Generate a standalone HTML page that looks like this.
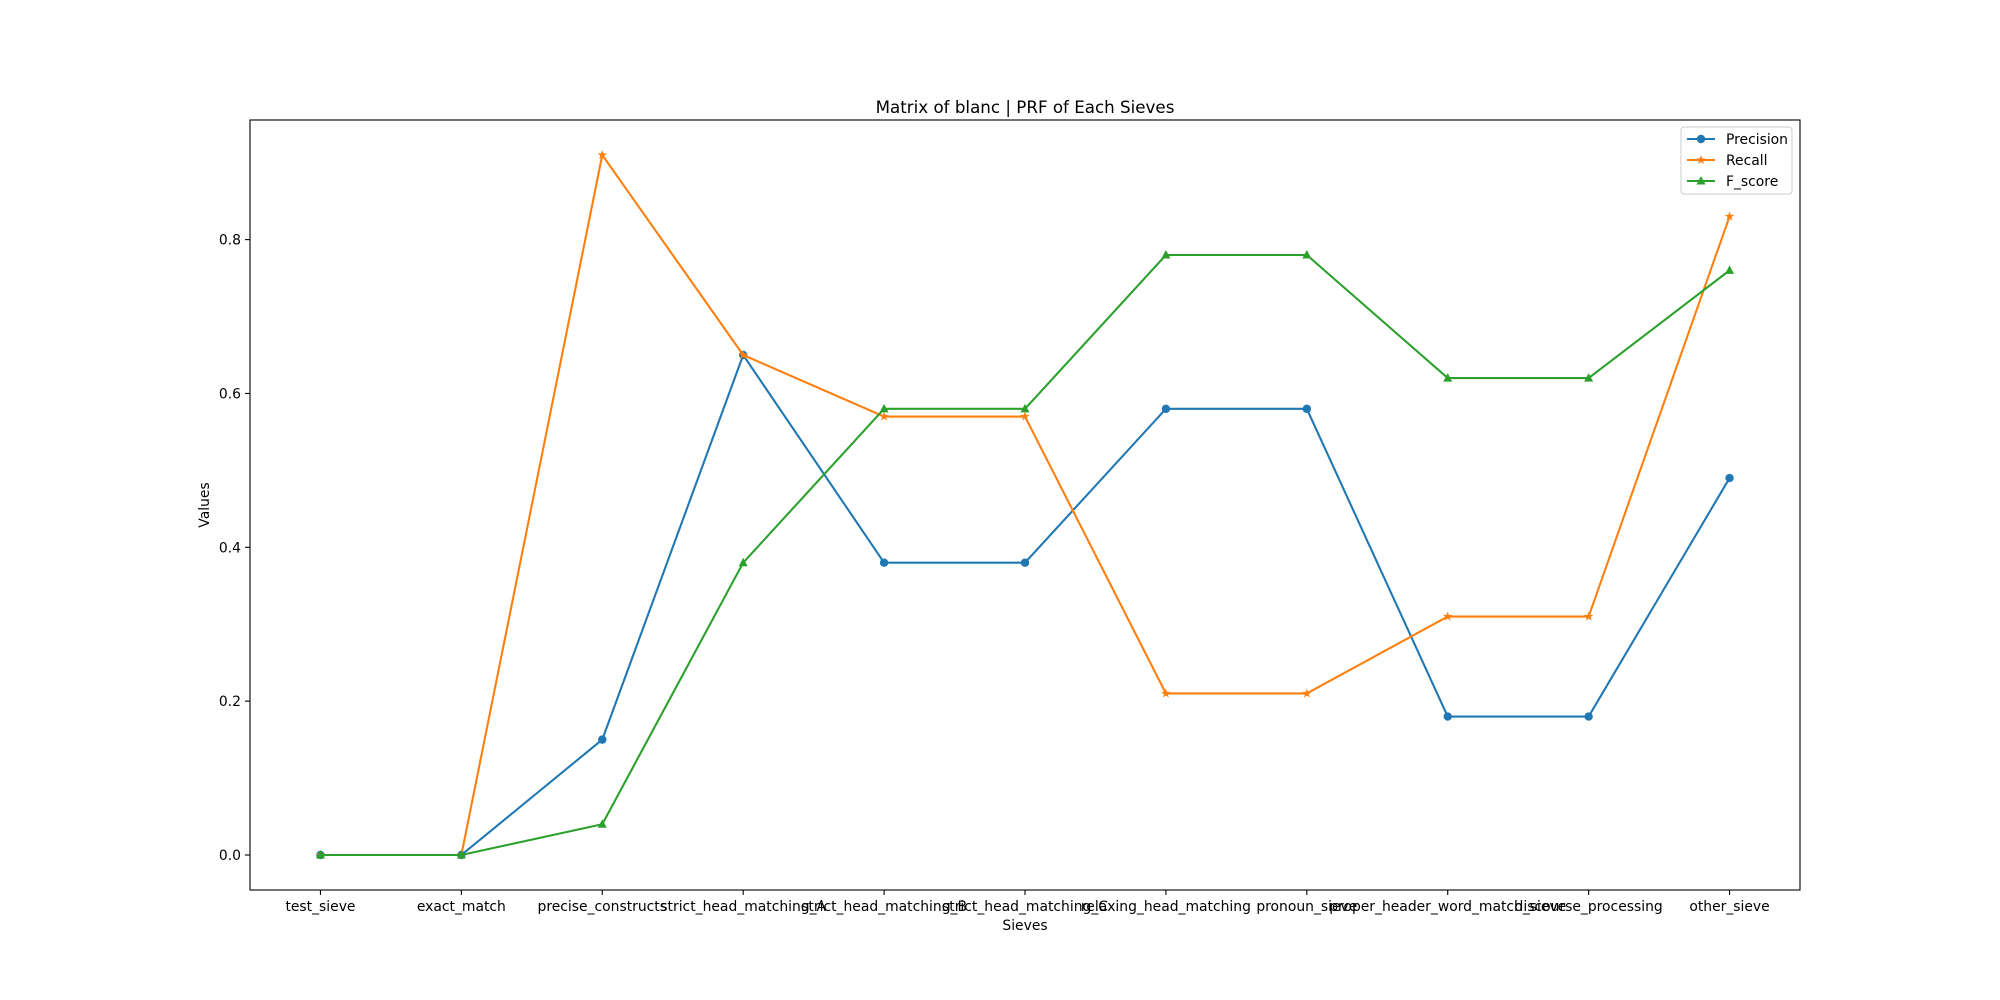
<!DOCTYPE html>
<html><head><meta charset="utf-8"><style>
body{margin:0;background:#fff}
svg{display:block;font-family:"DejaVu Sans","Liberation Sans",sans-serif}
</style></head><body>
<svg id="chart" width="2000" height="1000" xmlns="http://www.w3.org/2000/svg">
<rect width="2000" height="1000" fill="#fff"/>
<text x="1025" y="113" text-anchor="middle" font-size="16.7">Matrix of blanc | PRF of Each Sieves</text>
<g id="grid"></g>
<g id="series"></g>
<rect x="250" y="120" width="1550" height="770" fill="none" stroke="#000" stroke-width="1.1"/>
<text x="1025" y="930" text-anchor="middle" font-size="13.9">Sieves</text>
<text transform="translate(209,505) rotate(-90)" text-anchor="middle" font-size="13.9">Values</text>
<g id="legend"></g>
</svg>
<script>
const categories=["test_sieve","exact_match","precise_constructs","strict_head_matching_A","strict_head_matching_B","strict_head_matching_C","relaxing_head_matching","pronoun_sieve","proper_header_word_match_sieve","discourse_processing","other_sieve"];
const precision=[0,0,0.15,0.65,0.38,0.38,0.58,0.58,0.18,0.18,0.49];
const recall=[0,0,0.91,0.65,0.57,0.57,0.21,0.21,0.31,0.31,0.83];
const fscore=[0,0,0.04,0.38,0.58,0.58,0.78,0.78,0.62,0.62,0.76];
const yTicks=[0,0.2,0.4,0.6,0.8];
const yTickLabels=["0.0","0.2","0.4","0.6","0.8"];
const seriesNames=["Precision","Recall","F_score"];

const NS="http://www.w3.org/2000/svg";
const L=250,R=1800,T=120,B=890;
const all=precision.concat(recall,fscore);
const dmin=Math.min(...all),dmax=Math.max(...all),pad=(dmax-dmin)*0.05;
const y0=dmin-pad,y1=dmax+pad;
const xs=i=>L+(i+0.5)/categories.length*(R-L);
const ys=v=>B-(v-y0)/(y1-y0)*(B-T);
function mk(tag,attrs,parent){const e=document.createElementNS(NS,tag);for(const k in attrs)e.setAttribute(k,attrs[k]);parent.appendChild(e);return e;}
const grid=document.getElementById('grid');
categories.forEach((c,i)=>{
  const t=mk('line',{x1:xs(i),x2:xs(i),y1:B,y2:B+5,stroke:'#000','stroke-width':1.1},grid);
  
  
  const tx=mk('text',{x:xs(i),y:B+21,'text-anchor':'middle','font-size':13.9},grid);
  tx.textContent=c;
  
  
});
yTicks.forEach((v,i)=>{
  const t=mk('line',{x1:L-5,x2:L,y1:ys(v),y2:ys(v),stroke:'#000','stroke-width':1.1},grid);
  
  
  const tx=mk('text',{x:L-9,y:ys(v)+5,'text-anchor':'end','font-size':13.9},grid);
  tx.textContent=yTickLabels[i];
  
  
});
const colors=["#1f77b4","#ff7f0e","#2ca02c"];
const markers=["circle","star","triangle"];
function marker(type,x,y,color,parent){
  let e;
  if(type==='circle')e=mk('circle',{cx:x,cy:y,r:4.2,fill:color},parent);
  else if(type==='triangle')e=mk('polygon',{points:`${x},${y-5} ${x-4.5},${y+3.5} ${x+4.5},${y+3.5}`,fill:color},parent);
  else{let p=[];for(let k=0;k<10;k++){const r=k%2?2:5,a=-Math.PI/2+k*Math.PI/5;p.push((x+r*Math.cos(a)).toFixed(2)+','+(y+r*Math.sin(a)).toFixed(2));}
    e=mk('polygon',{points:p.join(' '),fill:color},parent);}
  return e;
}
const sg=document.getElementById('series');
[precision,recall,fscore].forEach((arr,s)=>{
  const g=mk('g',{},sg);
  
  
  const pl=mk('polyline',{points:arr.map((v,i)=>xs(i)+','+ys(v)).join(' '),fill:'none',stroke:colors[s],'stroke-width':2.08},g);
  
  
  arr.forEach((v,i)=>{
    const m=marker(markers[s],xs(i),ys(v),colors[s],g);
    
    
  });
});
const lg=document.getElementById('legend');
const box=mk('rect',{x:1681,y:127,width:111,height:67,rx:3,fill:'#fff','fill-opacity':0.8,stroke:'#ccc'},lg);


seriesNames.forEach((n,s)=>{
  const yy=139+s*21;
  const g=mk('g',{},lg);
  
  
  mk('line',{x1:1687,x2:1715,y1:yy,y2:yy,stroke:colors[s],'stroke-width':2.08},g);
  marker(markers[s],1701,yy,colors[s],g);
  const t=mk('text',{x:1726,y:yy+5,'font-size':13.9},g);
  t.textContent=n;
});
</script>
</body></html>
